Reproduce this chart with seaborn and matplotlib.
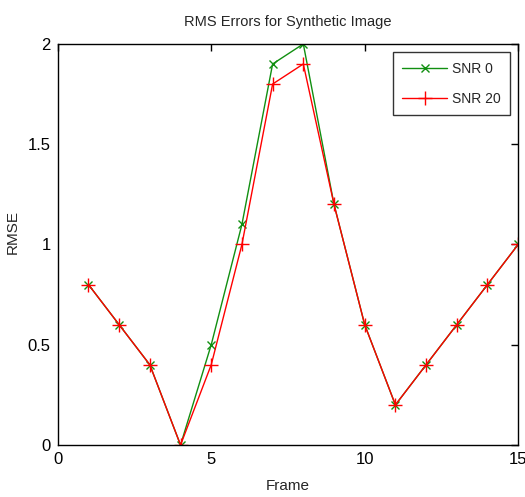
import matplotlib
matplotlib.use("Agg")
import matplotlib.pyplot as plt
import seaborn as sns
import pandas as pd

frames = list(range(1, 16))
snr0 = [0.8, 0.6, 0.4, 0.0, 0.5, 1.1, 1.9, 2.0, 1.2, 0.6, 0.2, 0.4, 0.6, 0.8, 1.0]
snr20 = [0.8, 0.6, 0.4, 0.0, 0.4, 1.0, 1.8, 1.9, 1.2, 0.6, 0.2, 0.4, 0.6, 0.8, 1.0]
series_names = ["SNR 0", "SNR 20"]
x_ticks = [0, 5, 10, 15]
y_ticks = [0, 0.5, 1, 1.5, 2]
y_ticklabels = ["0", "0.5", "1", "1.5", "2"]

sns.set_style("white")
plt.rcParams['font.family'] = ['Liberation Sans', 'DejaVu Sans']

df = pd.DataFrame({
    "Frame": frames * 2,
    "RMSE": snr0 + snr20,
    "Series": [series_names[0]] * len(frames) + [series_names[1]] * len(frames),
})

fig = plt.figure(figsize=(5.25, 4.97), dpi=100)
ax = fig.add_axes([0.110, 0.1046, 0.877, 0.807])

palette = {series_names[0]: "#118f11", series_names[1]: "#ff0000"}
markers = {series_names[0]: "x", series_names[1]: "+"}
sizes_ms = {series_names[0]: 6, series_names[1]: 10}
for name in series_names:
    sub = df[df["Series"] == name]
    sns.lineplot(data=sub, x="Frame", y="RMSE", color=palette[name],
                 marker=markers[name], markersize=sizes_ms[name],
                 markeredgecolor=palette[name], markeredgewidth=1.0,
                 linewidth=1.0, ax=ax, label=name)

ax.set_xlim(0, 15)
ax.set_ylim(0, 2)
ax.set_xticks(x_ticks)
ax.set_xticklabels([str(t) for t in x_ticks])
ax.set_yticks(y_ticks)
ax.set_yticklabels(y_ticklabels)
ax.tick_params(direction="in", top=True, right=True, length=5, width=1,
               labelsize=12, colors="black", pad=5)
for s in ax.spines.values():
    s.set_visible(True)
    s.set_color("black")
    s.set_linewidth(1.0)
ax.set_xlabel("Frame", fontsize=11, labelpad=9)
ax.set_ylabel("RMSE", fontsize=11)
ax.yaxis.set_label_coords(-0.083, 0.53)
ax.set_title("RMS Errors for Synthetic Image", fontsize=10.5, pad=13)

leg = ax.legend(title=None, loc="upper right", fontsize=10, frameon=True,
                fancybox=False, edgecolor="black", borderaxespad=0.58,
                handlelength=3.2, labelspacing=1.15, handletextpad=0.35,
                borderpad=0.7)
leg.get_frame().set_linewidth(1.0)

fig.savefig("out.png", dpi=100)
